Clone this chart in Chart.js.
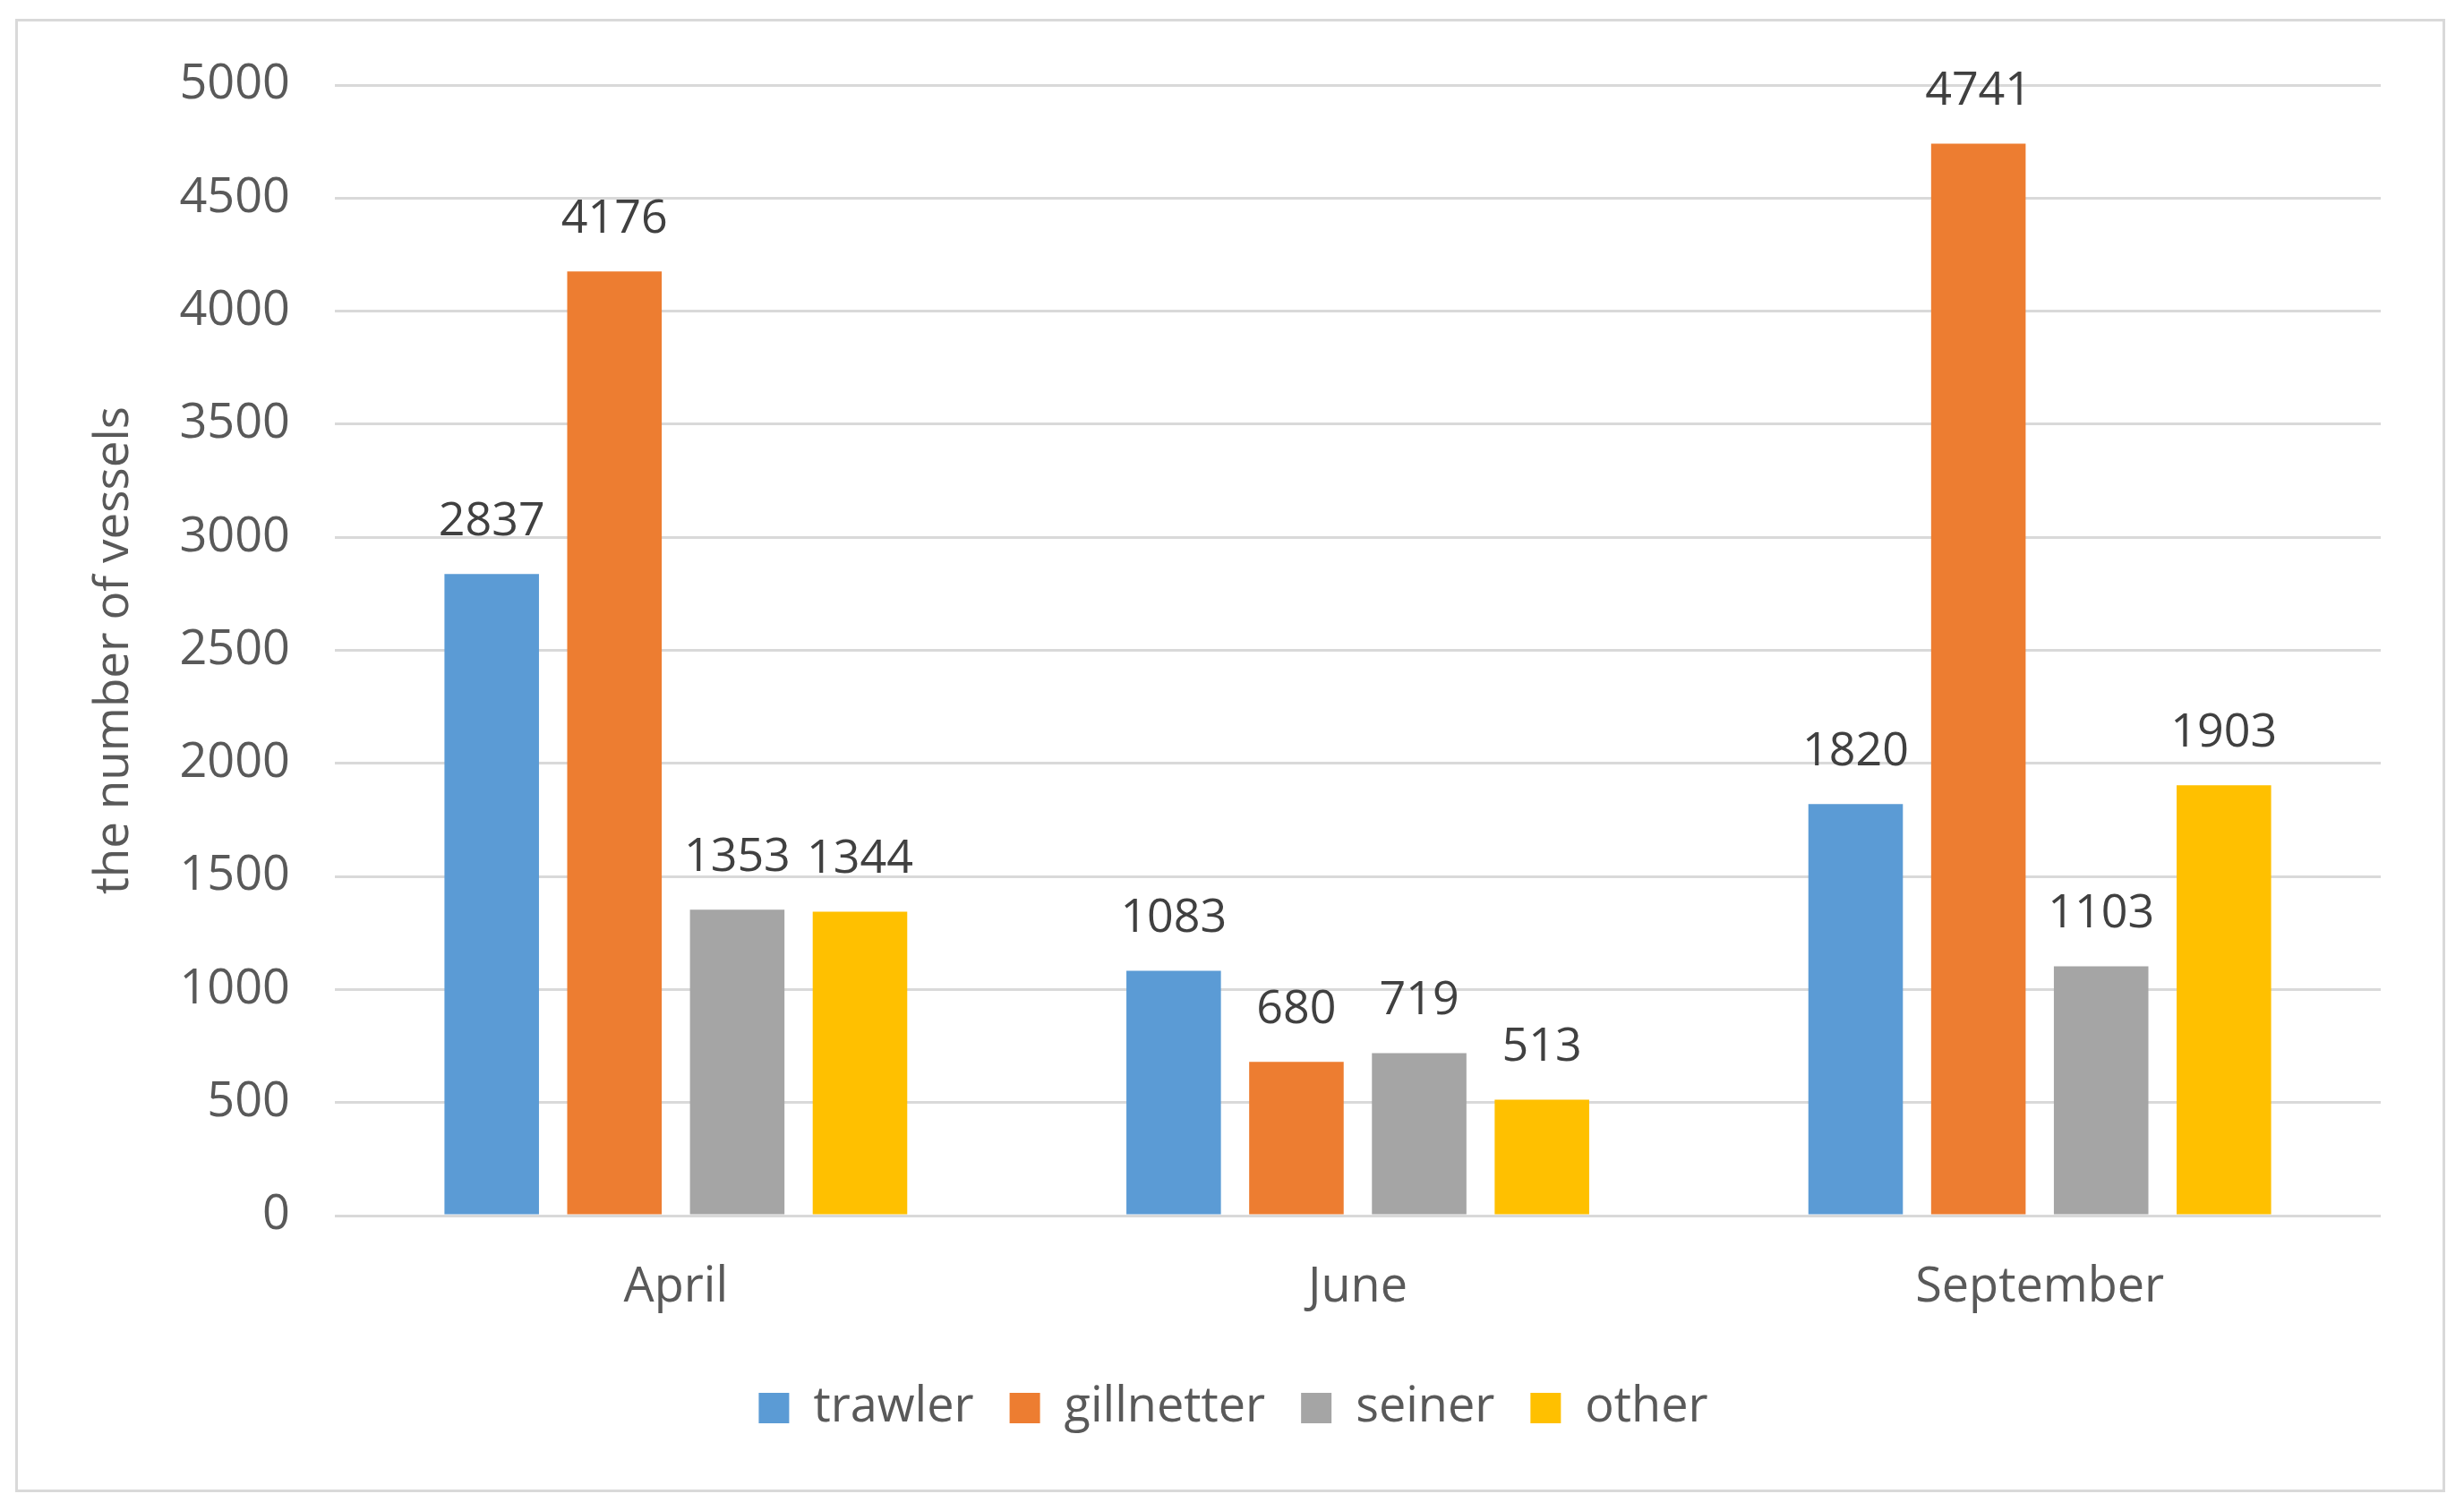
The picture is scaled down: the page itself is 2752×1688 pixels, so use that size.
<!DOCTYPE html>
<html>
<head>
<meta charset="utf-8">
<script src="https://cdn.jsdelivr.net/npm/chart.js@4.4.1/dist/chart.umd.min.js"></script>
<style>
  body { margin: 0; background: #fff; }
  #box { position: absolute; left: 17px; top: 21px; width: 2708px; height: 1640px; border: 3px solid #d9d9d9; }
</style>
</head>
<body>
<div id="box"><canvas id="myChart" width="2708" height="1640"></canvas></div>
<script>
// data
const months = ['April', 'June', 'September'];
const trawler = [2837, 1083, 1820];
const gillnetter = [4176, 680, 4741];
const seiner = [1353, 719, 1103];
const other = [1344, 513, 1903];

const font = "'Open Sans', sans-serif";

// value labels above bars
const valueLabels = {
    id: 'valueLabels',
    afterDatasetsDraw(chart) {
        const c = chart.ctx;
        c.save();
        c.font = '52px ' + font;
        c.fillStyle = '#404040';
        c.textAlign = 'center';
        c.textBaseline = 'bottom';
        chart.data.datasets.forEach((ds, i) => {
            chart.getDatasetMeta(i).data.forEach((bar, j) => {
                c.fillText(ds.data[j], bar.x, bar.y - 32);
            });
        });
        c.restore();
    }
};

const ctx = document.getElementById('myChart');
const myChart = new Chart(ctx, {
    type: 'bar',
    data: {
        labels: months,
        datasets: [
            { label: 'trawler', data: trawler, backgroundColor: '#5b9bd5' },
            { label: 'gillnetter', data: gillnetter, backgroundColor: '#ed7d31' },
            { label: 'seiner', data: seiner, backgroundColor: '#a5a5a5' },
            { label: 'other', data: other, backgroundColor: '#ffc000' }
        ]
    },
    options: {
        responsive: false,
        animation: false,
        devicePixelRatio: 1,
        categoryPercentage: 0.72,
        barPercentage: 0.77,
        layout: { padding: { left: 76, right: 69, top: 71, bottom: 54 } },
        plugins: {
            tooltip: { enabled: false },
            legend: {
                position: 'bottom',
                labels: {
                    boxWidth: 34,
                    boxHeight: 34,
                    padding: 40,
                    color: '#595959',
                    font: { family: font, size: 54 }
                }
            }
        },
        scales: {
            x: {
                grid: { display: false, drawTicks: false },
                border: { display: false },
                ticks: { color: '#595959', padding: 48, font: { family: font, size: 54 } },
                afterFit(scale) {
                    scale.height = 148;
                    scale.paddingLeft = 0;
                    scale.paddingRight = 0;
                }
            },
            y: {
                min: 0,
                max: 5000,
                ticks: {
                    stepSize: 500,
                    color: '#595959',
                    padding: 50,
                    font: { family: font, size: 54 },
                    callback: v => String(v)
                },
                grid: { color: '#d9d9d9', lineWidth: 3, drawTicks: false },
                border: { display: false },
                title: {
                    display: true,
                    text: 'the number of vessels',
                    color: '#595959',
                    padding: 0,
                    font: { family: font, size: 53 }
                },
                afterFit(scale) {
                    scale.width = 278;
                    scale.paddingTop = 0;
                    scale.paddingBottom = 0;
                }
            }
        }
    },
    plugins: [valueLabels]
});
</script>
</body>
</html>
